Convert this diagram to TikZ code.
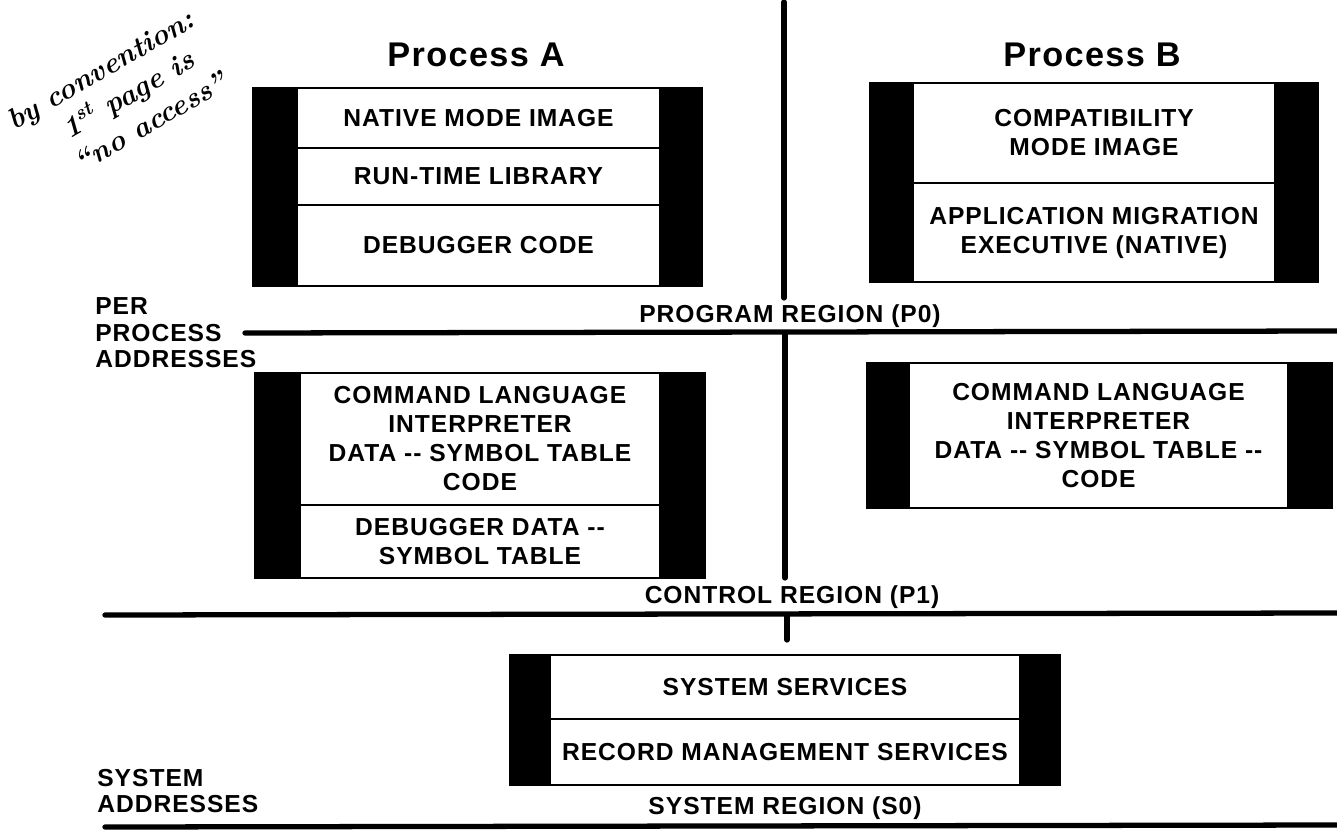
\documentclass[tikz,border=0pt]{standalone}
\usepackage{fontspec}
\setsansfont{Liberation Sans}[LetterSpace=4]
\usetikzlibrary{backgrounds}

\tikzset{
  cell/.style={draw, line width=1.2pt, fill=white, inner sep=0pt, align=center, font=\sffamily\bfseries\fontsize{14}{16.5}\selectfont},
  rule/.style={line width=3pt, line cap=round},
  title/.style={font=\sffamily\bfseries\fontsize{19.5}{22}\selectfont},
  region/.style={font=\sffamily\bfseries\fontsize{14}{16.5}\selectfont},
  side/.style={align=left, anchor=west, inner sep=0pt, font=\sffamily\bfseries\fontsize{14}{15}\selectfont},
  hand/.style={font=\rmfamily\bfseries\itshape\fontsize{16.5}{20}\selectfont, rotate=30, align=left, inner sep=0pt},
  band/.style={fill=black}
}

\begin{document}
\begin{tikzpicture}[x=0.02cm, y=-0.02cm]
  \useasboundingbox (0,0) rectangle (1337,835);

  % margin note
  \node[hand] (note) at (118,100) {by convention:\\\hspace*{1.5em}1\textsuperscript{st} page is\\\hspace*{1.3em}“no access”};

  % titles
  \node[title] (procA) at (476,55) {Process A};
  \node[title] (procB) at (1092,55) {Process B};

  % process A, program region
  \node[cell, minimum width=7.26cm, minimum height=1.2cm] (pa1) at (478.5,118) {NATIVE MODE IMAGE};
  \node[cell, minimum width=7.26cm, minimum height=1.14cm] (pa2) at (478.5,176.5) {RUN-TIME LIBRARY};
  \node[cell, minimum width=7.26cm, minimum height=1.62cm] (pa3) at (478.5,245.5) {DEBUGGER CODE};

  % process B, program region
  \node[cell, minimum width=7.24cm, minimum height=2.0cm] (pb1) at (1094,133) {COMPATIBILITY\\MODE IMAGE};
  \node[cell, minimum width=7.24cm, minimum height=1.98cm] (pb2) at (1094,232.5) {APPLICATION MIGRATION\\EXECUTIVE (NATIVE)};

  % process A, control region
  \node[cell, minimum width=7.2cm, minimum height=2.64cm] (ca1) at (480,439) {COMMAND LANGUAGE\\INTERPRETER\\DATA -{}- SYMBOL TABLE\\CODE};
  \node[cell, minimum width=7.2cm, minimum height=1.46cm] (ca2) at (480,541.5) {DEBUGGER DATA -{}-\\SYMBOL TABLE};

  % process B, control region
  \node[cell, minimum width=7.58cm, minimum height=2.9cm] (cb1) at (1098.5,435.5) {COMMAND LANGUAGE\\INTERPRETER\\DATA -{}- SYMBOL TABLE -{}-\\CODE};

  % system region
  \node[cell, minimum width=9.4cm, minimum height=1.28cm] (sys1) at (785,687) {SYSTEM SERVICES};
  \node[cell, minimum width=9.4cm, minimum height=1.32cm] (sys2) at (785,752) {RECORD MANAGEMENT SERVICES};

  % black side bands
  \begin{scope}[on background layer]
    \fill[band] ([xshift=-0.88cm]pa1.north west) rectangle ([xshift=0.84cm]pa3.south east);
    \fill[band] ([xshift=-0.86cm]pb1.north west) rectangle ([xshift=0.86cm]pb2.south east);
    \fill[band] ([xshift=-0.9cm]ca1.north west) rectangle ([xshift=0.9cm]ca2.south east);
    \fill[band] ([xshift=-0.84cm]cb1.north west) rectangle ([xshift=0.88cm]cb1.south east);
    \fill[band] ([xshift=-0.8cm]sys1.north west) rectangle ([xshift=0.8cm]sys2.south east);
  \end{scope}

  % region labels
  \node[region] (p0) at (790,316) {PROGRAM REGION (P0)};
  \node[region] (p1) at (792,597) {CONTROL REGION (P1)};
  \node[region] (s0) at (785,808) {SYSTEM REGION (S0)};
  \node[side] (perproc) at (95,333) {PER\\PROCESS\\ADDRESSES};
  \node[side] (sysaddr) at (97,791) {SYSTEM\\ADDRESSES};

  % dividing rules
  \coordinate (vtop) at (784,2);
  \coordinate (vp0) at (784,298);
  \coordinate (vp0b) at (785,334);
  \coordinate (vp1) at (785,578);
  \coordinate (vp1b) at (787,615);
  \coordinate (vs0) at (787,640);
  \coordinate (p0l) at (245,333);
  \coordinate (p0r) at (1337,331);
  \coordinate (p1l) at (105,615);
  \coordinate (p1r) at (1337,613);
  \coordinate (s0l) at (105,827);
  \coordinate (s0r) at (1337,825);
  \draw[rule] (vtop) -- (vp0);
  \draw[rule] (vp0b) -- (vp1);
  \draw[rule] (vp1b) -- (vs0);
  \draw[rule] (p0l) -- (p0r);
  \draw[rule] (p1l) -- (p1r);
  \draw[rule] (s0l) -- (s0r);
\end{tikzpicture}
\end{document}
